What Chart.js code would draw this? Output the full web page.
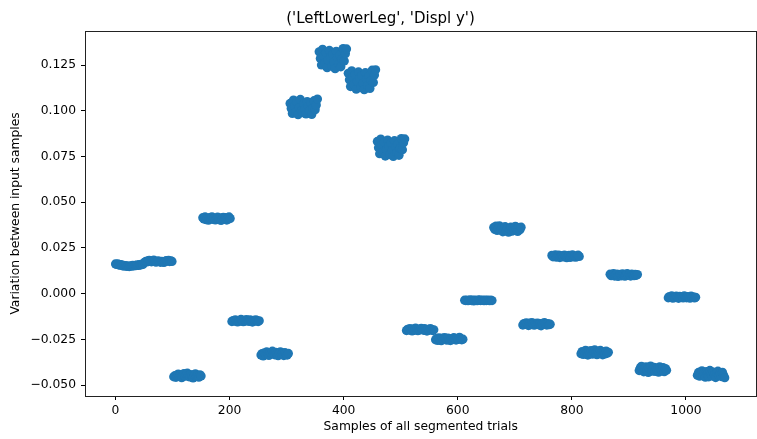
<!DOCTYPE html>
<html>
<head>
<meta charset="utf-8">
<title>LeftLowerLeg Displ y</title>
<script src="https://cdn.jsdelivr.net/npm/chart.js@4.4.1/dist/chart.umd.min.js"></script>
<style>
  html, body { margin: 0; padding: 0; background: #fff; overflow: hidden; }
  canvas { display: block; }
</style>
</head>
<body>
<canvas id="chart" width="761" height="439"></canvas>
<script>
// one list of values per segmented trial, a value every `sampleStep` samples
const sampleStep = 2;
const trialStart = [0, 51, 102, 153, 204, 255, 306, 357, 408, 459, 510, 561, 612, 663, 714, 765, 816, 867, 918, 969, 1020];

const trial01 = [0.0162, 0.0159, 0.0163, 0.0157, 0.0155, 0.0158, 0.0152, 0.0154, 0.0150, 0.0153, 0.0149, 0.0151, 0.0148, 0.0152, 0.0150, 0.0154, 0.0151, 0.0155, 0.0153, 0.0157, 0.0154, 0.0158, 0.0156, 0.0161, 0.0159];
const trial02 = [0.0171, 0.0176, 0.0173, 0.0179, 0.0182, 0.0177, 0.0174, 0.0180, 0.0183, 0.0178, 0.0172, 0.0176, 0.0179, 0.0175, 0.0171, 0.0177, 0.0174, 0.0170, 0.0176, 0.0181, 0.0178, 0.0182, 0.0175, 0.0179, 0.0176];
const trial03 = [-0.0455, -0.0449, -0.0458, -0.0446, -0.0440, -0.0451, -0.0444, -0.0460, -0.0448, -0.0437, -0.0452, -0.0442, -0.0435, -0.0447, -0.0456, -0.0443, -0.0450, -0.0461, -0.0445, -0.0439, -0.0453, -0.0448, -0.0457, -0.0444, -0.0450];
const trial04 = [0.0415, 0.0408, 0.0419, 0.0404, 0.0412, 0.0401, 0.0416, 0.0409, 0.0420, 0.0406, 0.0413, 0.0403, 0.0410, 0.0418, 0.0405, 0.0414, 0.0400, 0.0411, 0.0417, 0.0407, 0.0415, 0.0402, 0.0412, 0.0419, 0.0410];
const trial05 = [-0.0153, -0.0147, -0.0150, -0.0143, -0.0149, -0.0155, -0.0146, -0.0151, -0.0141, -0.0148, -0.0154, -0.0145, -0.0150, -0.0142, -0.0147, -0.0152, -0.0144, -0.0149, -0.0156, -0.0146, -0.0151, -0.0143, -0.0148, -0.0153, -0.0149];
const trial06 = [-0.0336, -0.0328, -0.0341, -0.0324, -0.0332, -0.0319, -0.0330, -0.0338, -0.0322, -0.0327, -0.0315, -0.0329, -0.0335, -0.0321, -0.0331, -0.0340, -0.0325, -0.0318, -0.0333, -0.0326, -0.0339, -0.0323, -0.0330, -0.0336, -0.0327];
const trial07 = [0.1040, 0.1012, 0.0985, 0.1058, 0.1025, 0.0995, 0.1048, 0.0978, 0.1018, 0.1062, 0.1003, 0.0990, 0.1036, 0.1010, 0.0982, 0.1050, 0.1022, 0.0998, 0.1044, 0.0980, 0.1015, 0.1055, 0.1005, 0.1032, 0.1064];
const trial08 = [0.1322, 0.1285, 0.1250, 0.1336, 0.1300, 0.1262, 0.1318, 0.1235, 0.1278, 0.1330, 0.1292, 0.1245, 0.1310, 0.1268, 0.1230, 0.1325, 0.1288, 0.1255, 0.1305, 0.1240, 0.1282, 0.1340, 0.1272, 0.1312, 0.1338];
const trial09 = [0.1205, 0.1170, 0.1132, 0.1218, 0.1185, 0.1145, 0.1198, 0.1118, 0.1160, 0.1212, 0.1178, 0.1128, 0.1192, 0.1150, 0.1115, 0.1208, 0.1172, 0.1138, 0.1188, 0.1122, 0.1165, 0.1222, 0.1155, 0.1195, 0.1224];
const trial10 = [0.0832, 0.0798, 0.0765, 0.0845, 0.0812, 0.0775, 0.0828, 0.0752, 0.0790, 0.0840, 0.0805, 0.0760, 0.0822, 0.0782, 0.0750, 0.0836, 0.0800, 0.0770, 0.0818, 0.0756, 0.0795, 0.0848, 0.0786, 0.0825, 0.0846];
const trial11 = [-0.0202, -0.0195, -0.0199, -0.0191, -0.0197, -0.0204, -0.0193, -0.0200, -0.0189, -0.0196, -0.0203, -0.0194, -0.0198, -0.0190, -0.0196, -0.0201, -0.0192, -0.0199, -0.0205, -0.0195, -0.0200, -0.0191, -0.0197, -0.0202, -0.0198];
const trial12 = [-0.0253, -0.0245, -0.0256, -0.0242, -0.0249, -0.0258, -0.0244, -0.0251, -0.0240, -0.0247, -0.0255, -0.0243, -0.0250, -0.0257, -0.0246, -0.0252, -0.0241, -0.0248, -0.0254, -0.0245, -0.0250, -0.0239, -0.0247, -0.0253, -0.0249];
const trial13 = [-0.0036, -0.0038, -0.0035, -0.0039, -0.0037, -0.0034, -0.0038, -0.0036, -0.0040, -0.0035, -0.0037, -0.0039, -0.0036, -0.0034, -0.0038, -0.0037, -0.0035, -0.0039, -0.0036, -0.0038, -0.0035, -0.0037, -0.0039, -0.0036, -0.0038];
const trial14 = [0.0362, 0.0351, 0.0369, 0.0345, 0.0357, 0.0371, 0.0348, 0.0360, 0.0338, 0.0354, 0.0366, 0.0343, 0.0356, 0.0336, 0.0350, 0.0364, 0.0341, 0.0358, 0.0347, 0.0368, 0.0352, 0.0340, 0.0361, 0.0349, 0.0363];
const trial15 = [-0.0172, -0.0164, -0.0169, -0.0160, -0.0166, -0.0175, -0.0162, -0.0170, -0.0158, -0.0167, -0.0173, -0.0163, -0.0168, -0.0161, -0.0171, -0.0165, -0.0176, -0.0163, -0.0169, -0.0159, -0.0166, -0.0172, -0.0164, -0.0170, -0.0167];
const trial16 = [0.0209, 0.0201, 0.0206, 0.0212, 0.0199, 0.0204, 0.0210, 0.0197, 0.0203, 0.0208, 0.0200, 0.0211, 0.0205, 0.0196, 0.0202, 0.0209, 0.0198, 0.0206, 0.0212, 0.0201, 0.0207, 0.0199, 0.0204, 0.0210, 0.0203];
const trial17 = [-0.0329, -0.0317, -0.0333, -0.0320, -0.0310, -0.0325, -0.0336, -0.0315, -0.0327, -0.0312, -0.0331, -0.0319, -0.0307, -0.0323, -0.0334, -0.0316, -0.0328, -0.0311, -0.0324, -0.0335, -0.0318, -0.0330, -0.0314, -0.0326, -0.0321];
const trial18 = [0.0106, 0.0098, 0.0103, 0.0109, 0.0096, 0.0101, 0.0107, 0.0094, 0.0100, 0.0105, 0.0097, 0.0108, 0.0102, 0.0095, 0.0104, 0.0110, 0.0099, 0.0103, 0.0096, 0.0107, 0.0101, 0.0098, 0.0105, 0.0100, 0.0104];
const trial19 = [-0.0421, -0.0406, -0.0398, -0.0415, -0.0428, -0.0409, -0.0401, -0.0419, -0.0431, -0.0411, -0.0396, -0.0424, -0.0413, -0.0403, -0.0426, -0.0408, -0.0417, -0.0430, -0.0400, -0.0414, -0.0422, -0.0405, -0.0427, -0.0410, -0.0419];
const trial20 = [-0.0023, -0.0016, -0.0020, -0.0013, -0.0025, -0.0018, -0.0022, -0.0014, -0.0019, -0.0026, -0.0015, -0.0021, -0.0017, -0.0024, -0.0012, -0.0020, -0.0023, -0.0016, -0.0019, -0.0025, -0.0014, -0.0021, -0.0018, -0.0024, -0.0020];
const trial21 = [-0.0446, -0.0431, -0.0452, -0.0438, -0.0422, -0.0449, -0.0434, -0.0457, -0.0427, -0.0442, -0.0455, -0.0420, -0.0440, -0.0450, -0.0429, -0.0445, -0.0459, -0.0433, -0.0424, -0.0448, -0.0436, -0.0454, -0.0430, -0.0447, -0.0460];

const xTicks = [0, 200, 400, 600, 800, 1000];
const yTicks = [-0.050, -0.025, 0.000, 0.025, 0.050, 0.075, 0.100, 0.125];

const trials = [trial01, trial02, trial03, trial04, trial05, trial06, trial07, trial08, trial09, trial10,
                trial11, trial12, trial13, trial14, trial15, trial16, trial17, trial18, trial19, trial20, trial21];

const points = [];
trials.forEach((vals, t) => {
    vals.forEach((v, i) => points.push({ x: trialStart[t] + i * sampleStep, y: v }));
});

const font = { family: 'DejaVu Sans', size: 12.3 };

// matplotlib style box around the plot area
const frame = {
    id: 'frame',
    afterDraw(chart) {
        const { ctx, chartArea: a } = chart;
        ctx.save();
        ctx.strokeStyle = '#222';
        ctx.lineWidth = 1;
        ctx.strokeRect(Math.round(a.left) + 0.5, Math.round(a.top) + 0.5,
                       Math.round(a.right - a.left), Math.round(a.bottom - a.top));
        ctx.restore();
    }
};

const tickOpts = {
    display: true,
    drawOnChartArea: false,
    drawTicks: true,
    tickLength: 4,
    tickColor: '#000',
    tickWidth: 1
};

new Chart(document.getElementById('chart'), {
    type: 'scatter',
    data: {
        datasets: [{
            data: points,
            backgroundColor: '#1f77b4',
            borderColor: '#1f77b4',
            borderWidth: 0,
            pointRadius: 4.6,
            pointHoverRadius: 4.6
        }]
    },
    options: {
        responsive: false,
        animation: false,
        devicePixelRatio: 1,
        layout: { padding: 0 },
        plugins: {
            legend: { display: false },
            tooltip: { enabled: false },
            title: {
                display: true,
                text: "('LeftLowerLeg', 'Displ y')",
                color: '#000',
                font: { family: 'DejaVu Sans', size: 15, weight: 'normal' },
                padding: { top: 10, bottom: 3 }
            }
        },
        scales: {
            x: {
                type: 'linear',
                min: -53.5,
                max: 1123.5,
                border: { display: false },
                grid: tickOpts,
                afterFit(scale) { scale.height = 43; },
                afterBuildTicks(scale) { scale.ticks = xTicks.map(v => ({ value: v })); },
                ticks: {
                    color: '#000',
                    font: font,
                    padding: 3,
                    maxRotation: 0,
                    callback: v => String(v)
                },
                title: {
                    display: true,
                    text: 'Samples of all segmented trials',
                    color: '#000',
                    font: font,
                    padding: { top: 0, bottom: 4.6 }
                }
            },
            y: {
                type: 'linear',
                min: -0.0560,
                max: 0.1436,
                border: { display: false },
                grid: tickOpts,
                afterFit(scale) { scale.width = 85; },
                afterBuildTicks(scale) { scale.ticks = yTicks.map(v => ({ value: v })); },
                ticks: {
                    color: '#000',
                    font: font,
                    padding: 5,
                    callback: v => v.toFixed(3).replace('-', '\u2212')
                },
                title: {
                    display: true,
                    text: 'Variation between input samples',
                    color: '#000',
                    font: font,
                    padding: { top: 8.6, bottom: 0 }
                }
            }
        }
    },
    plugins: [frame]
});
</script>
</body>
</html>
